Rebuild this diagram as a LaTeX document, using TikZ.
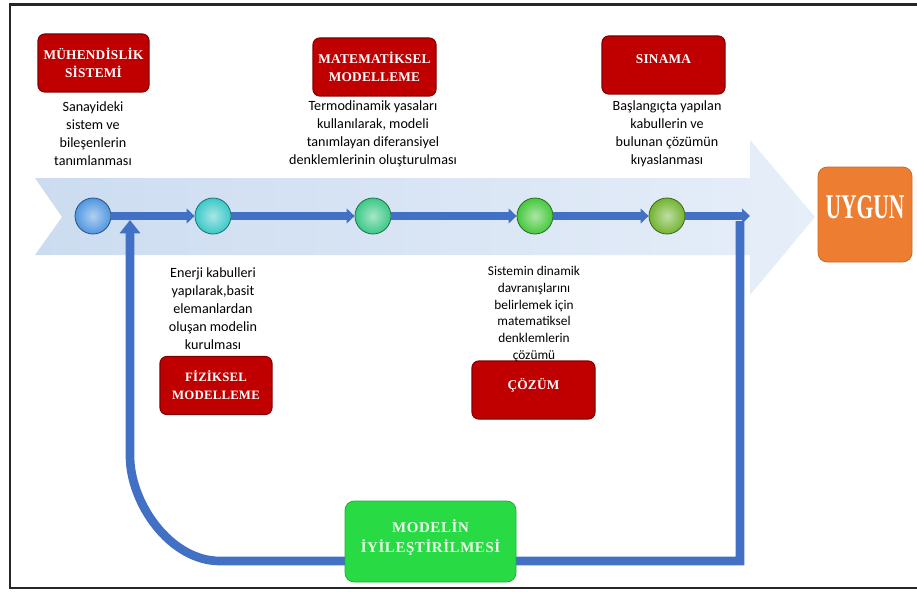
\documentclass[tikz,border=0pt]{standalone}
\usepackage{fontspec}
\usepackage{graphicx}
\setmainfont{Carlito}
\newfontfamily\titlefont{Liberation Serif}[LetterSpace=1.5]
\newfontfamily\widetitlefont{Liberation Serif}[LetterSpace=4]
\newfontfamily\bigtitlefont{Liberation Serif}
\usetikzlibrary{arrows.meta}

\definecolor{flowblue}{RGB}{66,112,196}
\definecolor{bandA}{RGB}{204,220,240}
\definecolor{bandB}{RGB}{230,238,249}
\definecolor{boxred}{RGB}{192,0,0}
\definecolor{boxredline}{RGB}{130,0,0}
\definecolor{boxgreen}{RGB}{40,218,68}
\definecolor{boxorange}{RGB}{237,125,49}
\definecolor{paletext}{RGB}{236,255,236}
\definecolor{dotA}{RGB}{80,150,225}
\definecolor{dotB}{RGB}{60,200,200}
\definecolor{dotC}{RGB}{60,200,135}
\definecolor{dotD}{RGB}{70,200,60}
\definecolor{dotE}{RGB}{115,180,50}

\tikzset{
  stepdot/.style={circle, inner sep=0pt, minimum size=27pt, draw=#1!55!black, line width=0.6pt,
    inner color=#1!45!white, outer color=#1},
  redbox/.style={draw=boxredline, line width=0.8pt, fill=boxred, rounded corners=5pt,
    minimum width=#1, minimum height=43.5pt, inner sep=0pt},
  ttl/.style={font=\titlefont\bfseries\fontsize{10}{13.5}\selectfont, text=white, align=center, inner sep=0pt},
  desc/.style={font=\fontsize{10.6}{13.5}\selectfont, align=center, inner sep=0pt, text=black},
  flow/.style={draw=flowblue, line width=6pt, -{Triangle[length=6pt,width=11pt]}},
  loopline/.style={draw=flowblue, line width=6.5pt, line join=miter, -{Triangle[length=10pt,width=15pt]}},
}

\begin{document}
\begin{tikzpicture}[x=0.75pt, y=-0.75pt]
\useasboundingbox (0,0) rectangle (917,592);

% outer frame, open on the right
\draw[line width=1.6pt, black!85] (917,4.5) -- (10,4.5) -- (10,588) -- (917,588);

% wide light-blue process arrow
\shade[left color=bandA, right color=bandB]
  (35,178) -- (750,178) -- (750,140) -- (815,217) -- (750,295) -- (750,255)
  -- (35,255) -- (62,217) -- cycle;

% feedback loop from the end of the line back to the start
\coordinate (fbtop) at (740,221);
\coordinate (fbcorner) at (740,561);
\coordinate (fbend) at (130,220);
\draw[loopline] (fbtop) -- (fbcorner) -- (220,561)
  .. controls (170,561) and (130,503) .. (130,456) -- (fbend);

% process steps
\node[stepdot=dotA] (c1) at (93,216) {};
\node[stepdot=dotB] (c2) at (213,216) {};
\node[stepdot=dotC] (c3) at (373,216) {};
\node[stepdot=dotD] (c4) at (535,216) {};
\node[stepdot=dotE] (c5) at (667,216) {};
\coordinate (exitpt) at (750,216);

\draw[flow] (c1) -- (c2);
\draw[flow] (c2) -- (c3);
\draw[flow] (c3) -- (c4);
\draw[flow] (c4) -- (c5);
\draw[flow] (c5) -- (exitpt);

% red step titles
\node[redbox=83.25pt, ttl] (mhs) at (93.5,63) {MÜHENDİSLİK\\SİSTEMİ};
\node[redbox=92.25pt, ttl] (mat) at (374.5,67) {MATEMATİKSEL\\MODELLEME};
\node[redbox=92.25pt] (sin) at (663.5,65) {};
\node[ttl] (sinT) at (663.5,59) {SINAMA};
\node[redbox=84pt, ttl, font=\titlefont\bfseries\fontsize{9.6}{13.5}\selectfont] (fiz) at (216,385.5) {FİZİKSEL\\MODELLEME};
\node[redbox=92.25pt, minimum height=43.5pt] (coz) at (533.5,390) {};
\node[ttl] (cozT) at (533.5,385) {ÇÖZÜM};

% step descriptions
\node[desc] (d1) at (93,134) {Sanayideki\\sistem ve\\bileşenlerin\\tanımlanması};
\node[desc] (d2) at (373,134) {Termodinamik yasaları\\kullanılarak, modeli\\tanımlayan diferansiyel\\denklemlerinin oluşturulması};
\node[desc] (d3) at (667,134) {Başlangıçta yapılan\\kabullerin ve\\bulunan çözümün\\kıyaslanması};
\node[desc] (d4) at (213,309) {Enerji kabulleri\\yapılarak,basit\\elemanlardan\\oluşan modelin\\kurulması};
\node[desc, font=\fontsize{10}{12.5}\selectfont] (d5) at (534,314) {Sistemin dinamik\\davranışlarını\\belirlemek için\\matematiksel\\denklemlerin\\çözümü};

% improvement box on the feedback loop
\node[draw=boxgreen!80!black, line width=0.6pt, fill=boxgreen, rounded corners=7pt,
  minimum width=128.25pt, minimum height=60.75pt, inner sep=0pt] (imp) at (430.5,541.5) {};
\node[ttl, text=paletext, font=\widetitlefont\bfseries\fontsize{11.2}{15.5}\selectfont] (impT) at (430.5,537.5) {MODELİN\\İYİLEŞTİRİLMESİ};

% result box
\node[draw=boxorange!85!black, line width=0.6pt, fill=boxorange, rounded corners=7pt,
  minimum width=70.5pt, minimum height=71.25pt, inner sep=0pt] (uyg) at (865,214.5) {};
\node[inner sep=0pt, text=white] (uygT) at (865,207)
  {\scalebox{0.62}[1]{\bigtitlefont\bfseries\fontsize{26}{26}\selectfont UYGUN}};
\end{tikzpicture}
\end{document}
